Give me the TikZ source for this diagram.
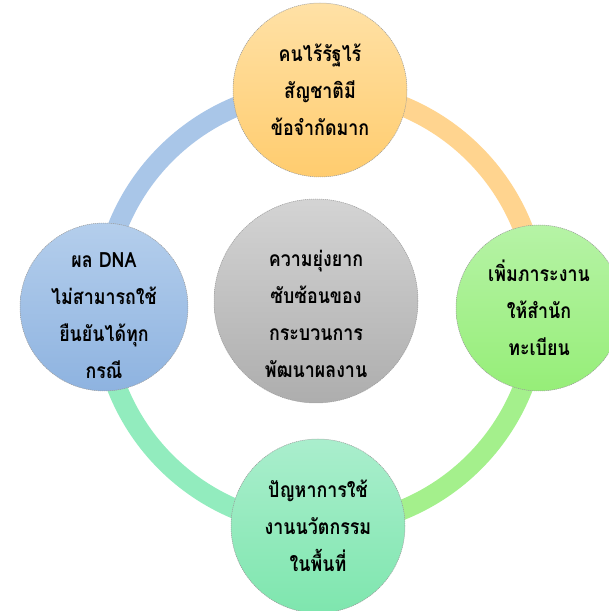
\documentclass[tikz,border=0pt]{standalone}
\usepackage{fontspec}
\newfontfamily\thaifont[Script=Thai,FakeStretch=0.85]{Loma}
\definecolor{ringorange}{HTML}{FFD48F}
\definecolor{ringgreen}{HTML}{A4F08C}
\definecolor{ringteal}{HTML}{92ECBE}
\definecolor{ringblue}{HTML}{A9C6E8}

\begin{document}
\begin{tikzpicture}[x=1pt,y=1pt,
    ring/.style={line width=20pt},
    bubble/.style={circle, inner sep=0pt,
        draw=black!40, line width=0.5pt, dash pattern=on 1.2pt off 0.8pt},
    caption/.style={align=center, inner sep=0pt,
        font={\thaifont\bfseries\fontsize{21}{37}\selectfont}},
    topic/.style={bubble, caption},
    hub/.style={bubble, minimum size=204pt, top color=black!17, bottom color=black!32}]
    \useasboundingbox (0,0) rectangle (609,611);
    \coordinate (c) at (320,303);
    \draw[ring, ringorange] (c) ++(90:218) arc (90:0:218);
    \draw[ring, ringgreen] (c) ++(0:218) arc (0:-90:218);
    \draw[ring, ringteal] (c) ++(-90:218) arc (-90:-180:218);
    \draw[ring, ringblue] (c) ++(180:218) arc (180:90:218);
    \node[hub] (centre) at (316,310) {};
    \node[caption] (centre-text) at ([yshift=-13pt]centre) {
        ความยุ่งยาก\\ซับซ้อนของ\\กระบวนการ\\พัฒนาผลงาน
    };
    \node[topic, minimum size=174pt, top color={rgb,255:red,255;green,225;blue,166},
        bottom color={rgb,255:red,255;green,204;blue,110}] (stateless) at (320,521) {
        คนไร้รัฐไร้\\สัญชาติมี\\ข้อจำกัดมาก
    };
    \node[topic, minimum size=166pt, top color={rgb,255:red,182;green,243;blue,166},
        bottom color={rgb,255:red,150;green,238;blue,120}] (workload) at (539,303) {
        เพิ่มภาระงาน\\ให้สำนัก\\ทะเบียน
    };
    \node[topic, minimum size=174pt, top color={rgb,255:red,170;green,238;blue,205},
        bottom color={rgb,255:red,126;green,230;blue,174}] (innovation) at (318,85) {
        ปัญหาการใช้\\งานนวัตกรรม\\ในพื้นที่
    };
    \node[bubble, minimum size=168pt, top color={rgb,255:red,180;green,206;blue,236},
        bottom color={rgb,255:red,142;green,179;blue,224}] (dna) at (104,304) {};
    \node[caption] (dna-text) at ([yshift=-9pt]dna) {
        ผล DNA\\ไม่สามารถใช้\\ยืนยันได้ทุก\\กรณี
    };
\end{tikzpicture}
\end{document}
